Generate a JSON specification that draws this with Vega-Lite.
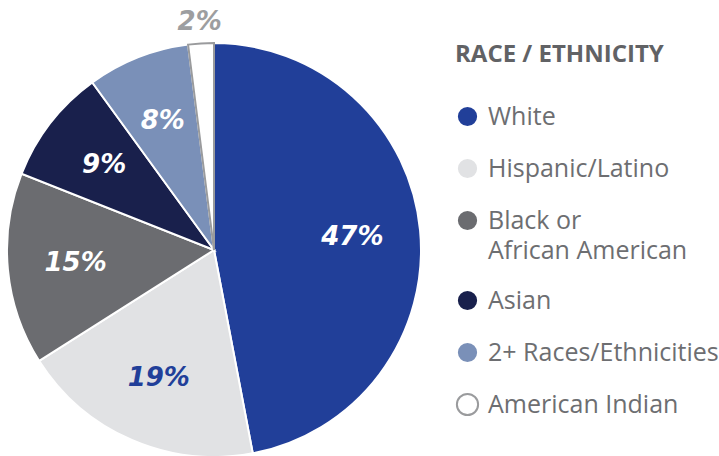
{
  "$schema": "https://vega.github.io/schema/vega-lite/v6.json",
  "width": 428,
  "height": 456,
  "autosize": "none",
  "padding": {"left": 0, "top": 22, "right": 291, "bottom": 0},
  "background": "white",
  "view": {"stroke": null},
  "data": {
    "values": [
      {"category": "White", "pct": 47, "ord": 1, "label": "47%"},
      {"category": "Hispanic/Latino", "pct": 19, "ord": 2, "label": "19%"},
      {"category": "Black or African American", "pct": 15, "ord": 3, "label": "15%"},
      {"category": "Asian", "pct": 9, "ord": 4, "label": "9%"},
      {"category": "2+ Races/Ethnicities", "pct": 8, "ord": 5, "label": "8%"},
      {"category": "American Indian", "pct": 2, "ord": 6, "label": "2%"}
    ]
  },
  "encoding": {
    "theta": {"field": "pct", "type": "quantitative", "stack": true},
    "order": {"field": "ord", "type": "quantitative"}
  },
  "layer": [
    {
      "mark": {"type": "arc", "outerRadius": 207, "strokeWidth": 2},
      "encoding": {
        "color": {
          "field": "category",
          "type": "nominal",
          "scale": {
            "domain": ["White", "Hispanic/Latino", "Black or African American", "Asian", "2+ Races/Ethnicities", "American Indian"],
            "range": ["#213f99", "#e1e2e4", "#6b6c70", "#19204c", "#7a90b8", "#ffffff"]
          },
          "legend": {
            "title": "RACE / ETHNICITY",
            "orient": "none",
            "legendX": 455,
            "legendY": 21,
            "padding": 0,
            "titleFont": "Open Sans",
            "titleFontSize": 24,
            "titleFontWeight": "bold",
            "titleColor": "#616265",
            "titleLimit": 400,
            "titlePadding": 37,
            "labelFont": "Open Sans",
            "labelFontSize": 25,
            "labelColor": "#6d6e71",
            "labelOffset": 8,
            "labelLimit": 300,
            "labelExpr": "datum.label == 'Black or African American' ? ['Black or', 'African American'] : datum.label",
            "symbolType": "circle",
            "symbolSize": 450,
            "symbolStrokeWidth": 2,
            "rowPadding": 21,
            "encode": {"labels": {"update": {"lineHeight": {"value": 30}}}}
          }
        },
        "stroke": {
          "field": "category",
          "type": "nominal",
          "scale": {
            "domain": ["White", "Hispanic/Latino", "Black or African American", "Asian", "2+ Races/Ethnicities", "American Indian"],
            "range": ["#ffffff", "#ffffff", "#ffffff", "#ffffff", "#ffffff", "#9a9b9d"]
          },
          "legend": {"title": "RACE / ETHNICITY"}
        }
      }
    },
    {
      "mark": {"type": "text", "radius": 139, "font": "DejaVu Sans", "fontWeight": "bold", "fontStyle": "italic", "fontSize": 26, "align": "center", "baseline": "middle"},
      "encoding": {
        "detail": {"field": "category", "type": "nominal"},
        "text": {"condition": {"test": "datum.pct < 5", "value": ""}, "field": "label", "type": "nominal"},
        "color": {"condition": {"test": "datum.category == 'Hispanic/Latino'", "value": "#213f99"}, "value": "#ffffff"}
      }
    },
    {
      "mark": {"type": "text", "radius": 228, "font": "DejaVu Sans", "fontWeight": "bold", "fontStyle": "italic", "fontSize": 26, "align": "center", "baseline": "middle", "color": "#9d9ea0"},
      "encoding": {
        "detail": {"field": "category", "type": "nominal"},
        "text": {"condition": {"test": "datum.pct >= 5", "value": ""}, "field": "label", "type": "nominal"}
      }
    }
  ]
}
